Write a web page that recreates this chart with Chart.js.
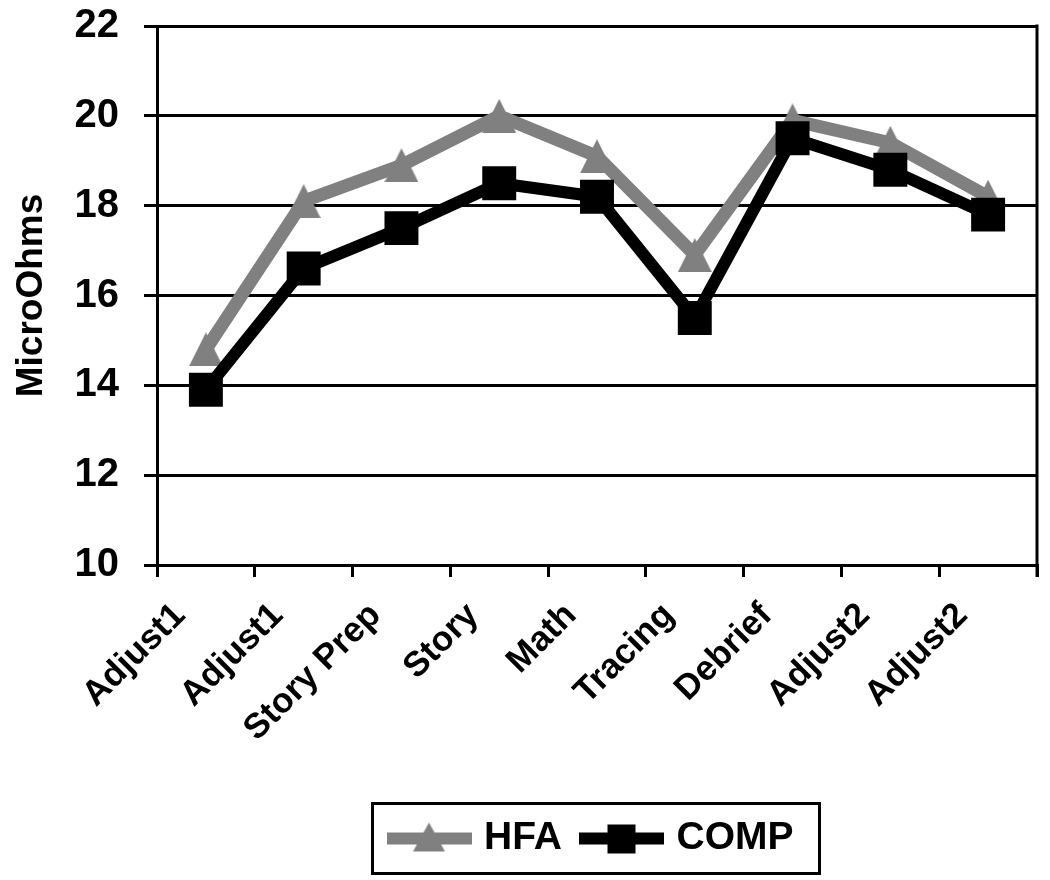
<!DOCTYPE html>
<html>
<head>
<meta charset="utf-8">
<script src="https://cdn.jsdelivr.net/npm/chart.js@4/dist/chart.umd.min.js"></script>
<style>
html,body{margin:0;padding:0;background:#fff;}
#wrap{width:1050px;height:880px;}
</style>
</head>
<body>
<div id="wrap"><canvas id="c" width="1050" height="880"></canvas></div>
<script>
// ---- data ----
const categories = ['Adjust1','Adjust1','Story Prep','Story','Math','Tracing','Debrief','Adjust2','Adjust2'];
const hfaValues  = [14.8, 18.1, 18.9, 20.0, 19.1, 16.9, 19.9, 19.4, 18.2];
const compValues = [13.9, 16.6, 17.5, 18.5, 18.2, 15.5, 19.5, 18.8, 17.8];
const seriesNames = ['HFA', 'COMP'];
const yMin = 10, yMax = 22, yStep = 2;
const yTitle = 'MicroOhms';

const GRAY = '#808080', BLACK = '#000000';
const FONT = "'Liberation Sans', Arial, sans-serif";
const RIGHT_MARGIN = 13;

function triangleImage(w, h, color){
  const c = document.createElement('canvas');
  c.width = w; c.height = h;
  const g = c.getContext('2d');
  g.fillStyle = color;
  g.beginPath(); g.moveTo(w/2, 0); g.lineTo(w, h); g.lineTo(0, h); g.closePath(); g.fill();
  return c;
}
function legendImage(kind, color){
  const W = 85, H = 34;
  const c = document.createElement('canvas');
  c.width = W; c.height = H;
  const g = c.getContext('2d');
  g.fillStyle = color;
  g.fillRect(0, H/2 - 6, W, 12);
  if (kind === 'tri'){
    g.beginPath(); g.moveTo(W/2, H/2 - 16); g.lineTo(W/2 + 16, H/2 + 13); g.lineTo(W/2 - 16, H/2 + 13); g.closePath(); g.fill();
  } else {
    g.fillRect(W/2 - 14, H/2 - 14, 28, 29);
  }
  return c;
}
const triImg = triangleImage(34, 34, GRAY);
const legendImgs = [legendImage('tri', GRAY), legendImage('sq', BLACK)];

const LEGEND_PAD = 24, LEGEND_SHIFT = 75, LEGEND_FONT = 39;

const framePlugin = {
  id: 'frame',
  afterLayout(chart){
    const a = chart.chartArea;
    const target = chart.width - RIGHT_MARGIN;
    if (a.right !== target){
      a.right = target; a.width = a.right - a.left;
      const xs = chart.scales.x;
      xs.right = target; xs.width = xs.right - xs.left;
      xs.configure();
    }
    const lg = chart.legend;
    if (lg && !lg._shifted){ lg.left += LEGEND_SHIFT; lg.right += LEGEND_SHIFT; lg._shifted = true; }
  },
  beforeUpdate(chart){ if (chart.legend) chart.legend._shifted = false; },
  afterDraw(chart){
    const ctx = chart.ctx, a = chart.chartArea;
    ctx.save();
    ctx.strokeStyle = BLACK; ctx.lineWidth = 3;
    ctx.beginPath(); ctx.moveTo(a.right, a.top - 1.5); ctx.lineTo(a.right, a.bottom + 12); ctx.stroke();
    const lg = chart.legend;
    if (lg && lg.lineWidths){
      const startX = (lg.left + LEGEND_PAD + lg.right - lg.lineWidths[0]) / 2;
      const endX = startX + lg.lineWidths[0] - LEGEND_PAD;
      const cy = lg.top + LEGEND_PAD + LEGEND_FONT/2;
      ctx.strokeRect(startX - 7 - 14, cy - 35, (endX + 26) - (startX - 21), 70);
    }
    ctx.restore();
  }
};

new Chart(document.getElementById('c'), {
  type: 'line',
  data: {
    labels: categories,
    datasets: [
      { label: seriesNames[0], data: hfaValues, borderColor: GRAY, backgroundColor: GRAY, borderWidth: 13,
        pointStyle: triImg, pointRadius: 17, pointBorderWidth: 0, order: 1, tension: 0 },
      { label: seriesNames[1], data: compValues, borderColor: BLACK, backgroundColor: BLACK, borderWidth: 12,
        pointStyle: 'rect', pointRadius: 24, pointBorderWidth: 0, order: 0, tension: 0 }
    ]
  },
  options: {
    responsive: false,
    animation: false,
    events: [],
    layout: { padding: { top: 26, right: RIGHT_MARGIN, left: 0, bottom: 12 } },
    plugins: {
      tooltip: { enabled: false },
      legend: {
        position: 'bottom',
        labels: {
          usePointStyle: true,
          pointStyleWidth: 71,
          padding: LEGEND_PAD,
          color: BLACK,
          font: { family: FONT, size: LEGEND_FONT, weight: 'bold' },
          sort: (a, b) => a.datasetIndex - b.datasetIndex,
          generateLabels(chart){
            return chart.data.datasets.map((ds, i) => ({
              text: ds.label, datasetIndex: i, pointStyle: legendImgs[i],
              fillStyle: ds.borderColor, strokeStyle: ds.borderColor, lineWidth: 0, hidden: false, fontColor: BLACK
            }));
          }
        }
      }
    },
    scales: {
      x: {
        offset: true,
        grid: { offset: true, drawOnChartArea: false, drawTicks: true, tickLength: 12, color: BLACK, lineWidth: 3 },
        border: { display: true, color: BLACK, width: 3 },
        ticks: { color: BLACK, maxRotation: 45, minRotation: 45, padding: 18, autoSkip: false, labelOffset: -26,
                 font: { family: FONT, size: 35, weight: 'bold' } },
        afterFit(scale){ scale.height = 230; scale.paddingLeft = 0; scale.paddingRight = 0; }
      },
      y: {
        min: yMin, max: yMax,
        grid: { color: BLACK, lineWidth: 3, tickLength: 13, drawTicks: true },
        border: { display: true, color: BLACK, width: 3 },
        ticks: { stepSize: yStep, color: BLACK, padding: 25, font: { family: FONT, size: 40, weight: 'bold' } },
        title: { display: true, text: yTitle, color: BLACK, padding: { top: 10, bottom: 0 },
                 font: { family: FONT, size: 37, weight: 'bold' } },
        afterFit(scale){ scale.width = 157; scale.paddingTop = 0; scale.paddingBottom = 0; }
      }
    }
  },
  plugins: [framePlugin]
});
</script>
</body>
</html>
